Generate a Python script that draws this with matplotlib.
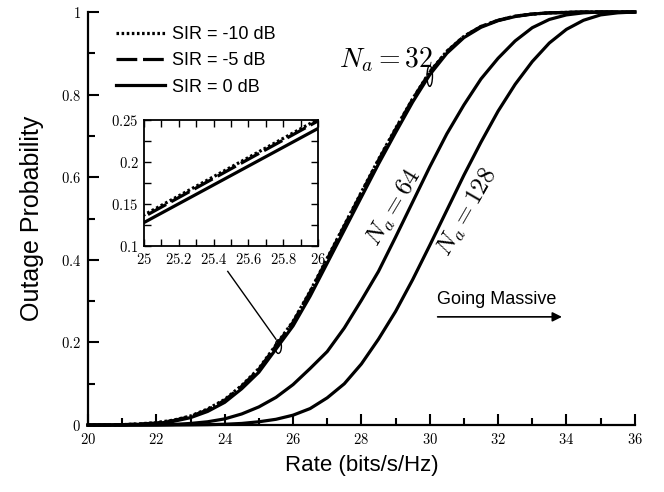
import numpy as np
import matplotlib
matplotlib.use("Agg")
import matplotlib.pyplot as plt
from matplotlib.patches import Ellipse
from matplotlib.ticker import MultipleLocator, FuncFormatter

plt.rcParams['mathtext.fontset'] = 'cm'
plt.rcParams['font.family'] = ['Liberation Sans', 'DejaVu Sans']

# ---- data ----
rate = [20.0, 20.5, 21.0, 21.5, 22.0, 22.5, 23.0, 23.5, 24.0, 24.5, 25.0, 25.5,
        26.0, 26.5, 27.0, 27.5, 28.0, 28.5, 29.0, 29.5, 30.0, 30.5, 31.0, 31.5,
        32.0, 32.5, 33.0, 33.5, 34.0, 34.5, 35.0, 35.5, 36.0]

na32_sir0 = [0.0, 0.0002, 0.0008, 0.002, 0.004, 0.009, 0.018, 0.033, 0.055, 0.088,
             0.128, 0.184, 0.240, 0.312, 0.392, 0.472, 0.552, 0.632, 0.708, 0.782,
             0.848, 0.900, 0.938, 0.963, 0.979, 0.989, 0.995, 0.998, 0.999, 1.0,
             1.0, 1.0, 1.0]
na32_sirm5 = [0.0, 0.0003, 0.001, 0.0025, 0.005, 0.011, 0.021, 0.037, 0.060, 0.094,
              0.135, 0.192, 0.249, 0.322, 0.402, 0.482, 0.562, 0.641, 0.716, 0.789,
              0.854, 0.904, 0.941, 0.965, 0.980, 0.990, 0.995, 0.998, 0.999, 1.0,
              1.0, 1.0, 1.0]
na32_sirm10 = [0.0, 0.0003, 0.001, 0.003, 0.006, 0.012, 0.022, 0.039, 0.062, 0.096,
               0.137, 0.194, 0.251, 0.324, 0.404, 0.484, 0.564, 0.643, 0.718, 0.790,
               0.855, 0.905, 0.941, 0.965, 0.980, 0.990, 0.995, 0.998, 0.999, 1.0,
               1.0, 1.0, 1.0]
na64_sir0 = [0.0, 0.0, 0.0, 0.0002, 0.0006, 0.0015, 0.004, 0.008, 0.015, 0.027,
             0.044, 0.067, 0.098, 0.137, 0.178, 0.235, 0.302, 0.372, 0.455, 0.540,
             0.625, 0.705, 0.775, 0.838, 0.888, 0.930, 0.962, 0.982, 0.993, 0.998,
             1.0, 1.0, 1.0]
na128_sir0 = [0.0, 0.0, 0.0, 0.0, 0.0, 0.0002, 0.0005, 0.001, 0.002, 0.004,
              0.008, 0.014, 0.024, 0.040, 0.066, 0.100, 0.148, 0.208, 0.275, 0.352,
              0.435, 0.520, 0.605, 0.685, 0.760, 0.825, 0.880, 0.925, 0.958, 0.980,
              0.993, 0.998, 1.0]

legend_labels = ['SIR = -10 dB', 'SIR = -5 dB', 'SIR = 0 dB']
na_labels = [r'$N_a = 32$', r'$N_a = 64$', r'$N_a = 128$']

# ---- figure ----
fig = plt.figure(figsize=(6.64, 4.92), dpi=100)
ax = fig.add_axes([0.1325, 0.136, 0.8235, 0.8396])

lw = 2.3
dotted = (0, (0.8, 0.8))
dashed = (0, (6.5, 1.8))
l10, = ax.plot(rate, na32_sirm10, color='black', lw=lw, ls=dotted, clip_on=False, zorder=4)
l5, = ax.plot(rate, na32_sirm5, color='black', lw=lw, ls=dashed, clip_on=False, zorder=3)
l0, = ax.plot(rate, na32_sir0, color='black', lw=lw, ls='-', clip_on=False, zorder=2)
ax.plot(rate, na64_sir0, color='black', lw=lw, ls='-', clip_on=False, zorder=2)
ax.plot(rate, na128_sir0, color='black', lw=lw, ls='-', clip_on=False, zorder=2)

ax.set_xlim(20, 36)
ax.set_ylim(0, 1)
for s in ['top', 'right']:
    ax.spines[s].set_visible(False)
for s in ['left', 'bottom']:
    ax.spines[s].set_linewidth(1.6)

ax.xaxis.set_major_locator(MultipleLocator(2))
ax.xaxis.set_minor_locator(MultipleLocator(1))
ax.yaxis.set_major_locator(MultipleLocator(0.2))
ax.yaxis.set_minor_locator(MultipleLocator(0.1))
fmt = FuncFormatter(lambda v, p: '$%g$' % round(v, 3))
ax.xaxis.set_major_formatter(fmt)
ax.yaxis.set_major_formatter(fmt)
ax.tick_params(which='major', direction='in', length=8, width=1.5, labelsize=10.5, pad=5)
ax.tick_params(which='minor', direction='in', length=5, width=1.5)

ax.set_xlabel('Rate (bits/s/Hz)', fontsize=16, labelpad=6)
ax.set_ylabel('Outage Probability', fontsize=18, labelpad=12)

leg = ax.legend([l10, l5, l0], legend_labels, loc='upper left',
                bbox_to_anchor=(0.045, 0.975), frameon=False, fontsize=13,
                handlelength=2.7, handletextpad=0.4, labelspacing=0.52,
                borderpad=0.2, borderaxespad=0)

# annotations
ax.text(28.72, 0.885, na_labels[0], fontsize=20, ha='center', va='center')
ax.text(28.95, 0.525, na_labels[1], fontsize=18, ha='center', va='center', rotation=59)
ax.text(31.1, 0.515, na_labels[2], fontsize=18, ha='center', va='center', rotation=60)
ax.add_patch(Ellipse((30.0, 0.845), 0.16, 0.05, fill=False, lw=1.0, color='black', zorder=5))
ax.add_patch(Ellipse((25.57, 0.19), 0.18, 0.033, fill=False, lw=1.0, color='black', zorder=5))
ax.plot([24.09, 25.5], [0.372, 0.208], color='black', lw=1.0)

ax.text(31.96, 0.303, 'Going Massive', fontsize=13, ha='center', va='center')
ax.annotate('', xy=(33.95, 0.262), xytext=(30.15, 0.262),
            arrowprops=dict(arrowstyle='-|>', color='black', lw=1.2, mutation_scale=14))

# ---- inset ----
ins = fig.add_axes([0.217, 0.5, 0.262, 0.256])
ins.plot(rate, na32_sirm10, color='black', lw=lw, ls=dotted, zorder=4)
ins.plot(rate, na32_sirm5, color='black', lw=lw, ls=dashed, zorder=3)
ins.plot(rate, na32_sir0, color='black', lw=lw, ls='-', zorder=2)
ins.set_xlim(25, 26)
ins.set_ylim(0.1, 0.25)
ins.xaxis.set_major_locator(MultipleLocator(0.2))
ins.xaxis.set_minor_locator(MultipleLocator(0.1))
ins.yaxis.set_major_locator(MultipleLocator(0.05))
ins.yaxis.set_minor_locator(MultipleLocator(0.025))
ins.xaxis.set_major_formatter(fmt)
ins.yaxis.set_major_formatter(fmt)
ins.tick_params(which='both', direction='in', length=5, width=1.0, top=True, right=True,
                labelsize=10.5, pad=4)
for s in ins.spines.values():
    s.set_linewidth(1.3)

fig.savefig('out.png', dpi=100)
